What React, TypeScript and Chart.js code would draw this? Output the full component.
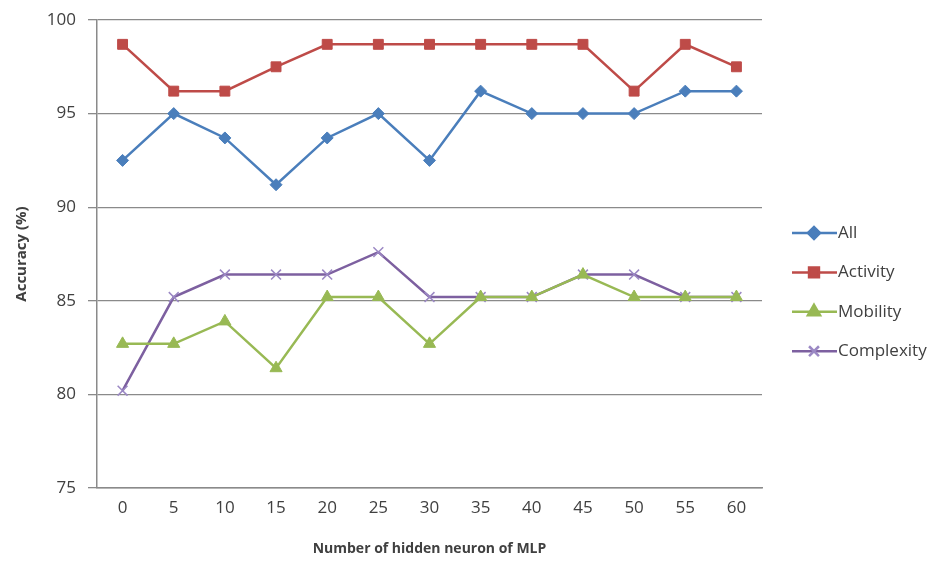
import React, { useEffect, useRef } from "react";
import { Chart, registerables } from "chart.js";
import { drawPoint } from "chart.js/helpers";

Chart.register(...registerables);

const categories = ["0", "5", "10", "15", "20", "25", "30", "35", "40", "45", "50", "55", "60"];
const allValues = [92.5, 95.0, 93.7, 91.2, 93.7, 95.0, 92.5, 96.2, 95.0, 95.0, 95.0, 96.2, 96.2];
const activityValues = [98.7, 96.2, 96.2, 97.5, 98.7, 98.7, 98.7, 98.7, 98.7, 98.7, 96.2, 98.7, 97.5];
const mobilityValues = [82.7, 82.7, 83.9, 81.4, 85.2, 85.2, 82.7, 85.2, 85.2, 86.4, 85.2, 85.2, 85.2];
const complexityValues = [80.2, 85.2, 86.4, 86.4, 86.4, 87.6, 85.2, 85.2, 85.2, 86.4, 86.4, 85.2, 85.2];
const yMin = 75;
const yMax = 100;
const yStep = 5;

const FONT = "'Open Sans', 'Liberation Sans', sans-serif";

const sideLegend = {
  id: "sideLegend",
  afterDraw(chart: any) {
    const ctx = chart.ctx;
    const area = chart.chartArea;
    chart.data.datasets.forEach((ds: any, i: number) => {
      const y = area.top + 213 + i * 39.4;
      const x0 = area.right + 30;
      ctx.save();
      ctx.strokeStyle = ds.borderColor;
      ctx.lineWidth = 2.5;
      ctx.beginPath();
      ctx.moveTo(x0, y);
      ctx.lineTo(x0 + 45, y);
      ctx.stroke();
      ctx.fillStyle = ds.pointBackgroundColor;
      ctx.strokeStyle = ds.pointBorderColor;
      drawPoint(ctx, {
        pointStyle: ds.pointStyle,
        radius: ds.pointRadius,
        rotation: 0,
        borderWidth: ds.pointBorderWidth,
      }, x0 + 22, y);
      ctx.fillStyle = "#404040";
      ctx.font = "17px " + FONT;
      ctx.textBaseline = "middle";
      ctx.textAlign = "left";
      ctx.fillText(ds.label, x0 + 46, y);
      ctx.restore();
    });
  },
};

export default function App() {
  const ref = useRef<HTMLCanvasElement | null>(null);
  useEffect(() => {
    if (!ref.current) return;
    const mk = (label: string, data: number[], color: string, pointStyle: string, radius: number, pColor?: string) => ({
      label,
      data,
      borderColor: color,
      backgroundColor: color,
      borderWidth: 2.5,
      pointStyle,
      pointRadius: radius,
      pointHoverRadius: radius,
      pointBackgroundColor: pColor || color,
      pointBorderColor: pColor || color,
      pointBorderWidth: pointStyle === "crossRot" ? 1.5 : 1,
      tension: 0,
    });
    const chart = new Chart(ref.current, {
      type: "line",
      data: {
        labels: categories,
        datasets: [
          mk("All", allValues, "#4a7ebb", "rectRot", 6),
          mk("Activity", activityValues, "#be4b48", "rect", 7),
          mk("Mobility", mobilityValues, "#98b954", "triangle", 7),
          mk("Complexity", complexityValues, "#7d60a0", "crossRot", 7, "#9b88c4"),
        ],
      },
      options: {
        animation: false,
        responsive: false,
        maintainAspectRatio: false,
        layout: { padding: { left: 0, right: 183, top: 20, bottom: 0 } },
        plugins: {
          legend: { display: false },
          tooltip: { enabled: false },
        },
        scales: {
          x: {
            type: "category",
            offset: true,
            afterFit: (s: any) => { s.height = 78; },
            grid: { display: true, drawOnChartArea: false, drawTicks: false, color: "#8a8a8a" },
            border: { display: true, color: "#8a8a8a", width: 1.5 },
            ticks: { color: "#404040", font: { family: FONT, size: 17 }, padding: 10, maxRotation: 0 },
            title: {
              display: true,
              text: "Number of hidden neuron of MLP",
              color: "#404040",
              font: { family: FONT, size: 14, weight: "bold" },
              padding: { top: 4, bottom: 9 },
            },
          },
          y: {
            min: yMin,
            max: yMax,
            afterFit: (s: any) => { s.width = 97; s.paddingTop = 0; s.paddingBottom = 0; },
            ticks: { stepSize: yStep, color: "#404040", font: { family: FONT, size: 17 }, padding: 12 },
            grid: { color: "#8a8a8a", lineWidth: 1.3, tickLength: 9 },
            border: { display: true, color: "#8a8a8a", width: 1.5 },
            title: {
              display: true,
              text: "Accuracy (%)",
              color: "#404040",
              font: { family: FONT, size: 15, weight: "bold" },
              padding: { top: 13, bottom: 4 },
            },
          },
        },
      },
      plugins: [sideLegend],
    } as any);
    return () => chart.destroy();
  }, []);
  return (
    <div style={{ position: "fixed", left: 0, top: 0, width: 945, height: 566, background: "#fff" }}>
      <canvas ref={ref} width={945} height={566} style={{ width: 945, height: 566, display: "block" }} />
    </div>
  );
}
